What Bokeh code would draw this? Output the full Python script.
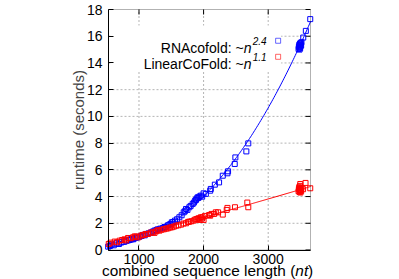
import numpy as np
from bokeh.plotting import figure
from bokeh.models import Label, FixedTicker, Range1d, BoxAnnotation
from bokeh.embed import file_html
from bokeh.resources import INLINE

# ---- data ----
blue_n = [523, 550, 574, 610, 651, 690, 728, 770, 805, 850, 882, 910, 932, 970, 1010, 1040,
          1062, 1090, 1112, 1150, 1189, 1215, 1240, 1270, 1292, 1330, 1369, 1395, 1420, 1450,
          1471, 1490, 1508, 1530, 1558, 1590, 1625, 1660, 1692, 1710, 1728, 1750, 1779, 1800,
          1831, 1850, 1870, 1882, 1895, 1908, 1920, 1935, 1958, 1978, 2000, 2035, 2102, 2112,
          2174, 2240, 2297, 2369, 2379, 2482, 2492, 2662, 2692,
          3470, 3475, 3480, 3485, 3488, 3490, 3492, 3495, 3498, 3500, 3505, 3510, 3515, 3543,
          3583, 3651]
blue_t = [0.25, 0.30, 0.40, 0.35, 0.50, 0.45, 0.58, 0.62, 0.70, 0.75, 0.83, 0.80, 0.90, 0.95,
          1.00, 1.05, 1.13, 1.10, 1.20, 1.25, 1.32, 1.38, 1.45, 1.50, 1.55, 1.60, 1.65, 1.72,
          1.75, 1.85, 1.90, 1.95, 2.07, 2.10, 2.20, 2.30, 2.45, 2.60, 2.82, 2.90, 3.07, 3.00,
          3.20, 3.30, 3.45, 3.55, 3.70, 3.75, 3.85, 3.94, 3.90, 4.00, 4.07, 3.99, 4.24, 4.20,
          4.44, 4.57, 4.89, 5.06, 5.56, 5.74, 5.89, 6.44, 6.93, 7.38, 7.98,
          15.05, 15.20, 15.35, 15.00, 15.15, 15.30, 15.45, 15.10, 15.25, 15.40, 15.50, 15.30,
          15.55, 15.90, 16.40, 17.28]

red_n = [532, 560, 625, 660, 702, 740, 778, 800, 831, 870, 908, 935, 958, 990, 1035, 1060,
         1086, 1110, 1138, 1180, 1215, 1240, 1266, 1290, 1317, 1350, 1385, 1420, 1446, 1480,
         1508, 1540, 1574, 1610, 1651, 1690, 1728, 1760, 1779, 1810, 1846, 1870, 1890, 1908,
         1925, 1940, 1958, 1975, 1985, 2000, 2020, 2086, 2102, 2123, 2163, 2189, 2225, 2297,
         2358, 2369, 2486, 2677, 2692,
         3470, 3475, 3480, 3485, 3488, 3490, 3492, 3495, 3498, 3500, 3505, 3510, 3515, 3497,
         3578, 3651, 3540]
red_t = [0.45, 0.55, 0.63, 0.58, 0.70, 0.75, 0.80, 0.72, 0.90, 0.88, 0.95, 1.02, 1.00, 0.95,
         1.08, 1.12, 1.15, 1.20, 1.20, 1.30, 1.32, 1.28, 1.40, 1.48, 1.45, 1.52, 1.55, 1.60,
         1.62, 1.68, 1.70, 1.75, 1.82, 1.85, 1.90, 1.98, 2.00, 2.10, 2.12, 2.15, 2.20, 2.28,
         2.30, 2.33, 2.38, 2.25, 2.45, 2.35, 2.45, 2.25, 2.55, 2.62, 2.57, 2.70, 2.70, 2.82,
         2.82, 2.65, 3.00, 3.15, 3.20, 3.55, 3.20,
         4.40, 4.55, 4.70, 4.35, 4.50, 4.62, 4.80, 4.45, 4.30, 4.60, 4.50, 4.40, 4.65, 4.94,
         5.02, 4.62, 4.55]

blue_exp = 2.4
red_exp = 1.1
x_ticks = [1000, 2000, 3000]
y_ticks = [0, 2, 4, 6, 8, 10, 12, 14, 16, 18]
x_min, x_max = 528, 3655
y_min, y_max = 0, 18

FONT = "Liberation Sans"

# ---- layout (pixels): canvas size and where the plot box sits in it ----
W, H = 320, 279
PL, PR, PT, PB = 108, 310, 9, 249.5
xs_px = (PR - PL) / (x_max - x_min)
ys_px = (PB - PT) / (y_max - y_min)
x_start, x_end = x_min - PL / xs_px, x_max + (W - PR) / xs_px
y_start, y_end = y_min - (H - PB) / ys_px, y_max + PT / ys_px


def power_fit(n, t, k):
    n = np.asarray(n, float); t = np.asarray(t, float)
    return float(np.sum(t * n**k) / np.sum(n**(2 * k)))


p = figure(width=W, height=H, output_backend="svg", toolbar_location=None,
           x_range=Range1d(x_start, x_end), y_range=Range1d(y_start, y_end),
           min_border_left=0, min_border_right=0, min_border_top=0, min_border_bottom=0)
p.outline_line_color = None
p.background_fill_color = "white"
p.border_fill_color = "white"
p.xgrid.visible = False
p.ygrid.visible = False

xa, ya = p.xaxis[0], p.yaxis[0]
for ax in (xa, ya):
    ax.major_tick_in = 5
    ax.major_tick_out = 0
    ax.minor_tick_line_color = None
    ax.axis_line_color = "black"
    ax.major_tick_line_color = "black"
    ax.major_label_text_font = FONT
    ax.major_label_text_font_size = "14px"
    ax.major_label_text_color = "black"
xa.ticker = FixedTicker(ticks=x_ticks)
ya.ticker = FixedTicker(ticks=y_ticks)
xa.fixed_location = y_min
ya.fixed_location = x_min
xa.bounds = (x_min, x_max)
ya.bounds = (y_min, y_max)
xa.major_label_standoff = 4
ya.major_label_standoff = 6
ya.axis_label = "runtime (seconds)"
ya.axis_label_text_font = FONT
ya.axis_label_text_font_size = "15px"
ya.axis_label_text_font_style = "normal"
ya.axis_label_standoff = -3

# dashed grid inside the plot box
gx = [t for t in x_ticks if x_min < t < x_max]
gy = [t for t in y_ticks if y_min < t < y_max]
grid_kw = dict(line_color="#b4b4b4", line_dash="2 2", line_width=1)
p.segment(x0=gx, y0=[y_min] * len(gx), x1=gx, y1=[y_max] * len(gx), **grid_kw)
p.segment(x0=[x_min] * len(gy), y0=gy, x1=[x_max] * len(gy), y1=gy, **grid_kw)

# opaque key area
p.quad(left=[560], right=[3200], bottom=[13.4], top=[16.8], fill_color="white",
       line_color=None)

# mirrored inward ticks on the right and top edges
p.ray(x=[x_max] * len(y_ticks), y=y_ticks, length=5, length_units="screen",
      angle=np.pi, line_color="black", line_width=1)
p.ray(x=x_ticks, y=[y_max] * len(x_ticks), length=5, length_units="screen",
      angle=-np.pi / 2, line_color="black", line_width=1)

# fit lines
xs = np.linspace(x_min, x_max, 200)
cb = power_fit(blue_n, blue_t, blue_exp)
cr = power_fit(red_n, red_t, red_exp)
p.line(xs, cb * xs**blue_exp, line_color="#0000ff", line_width=1)
p.line(xs, cr * xs**red_exp, line_color="#ff0000", line_width=1)

p.scatter(blue_n, blue_t, marker="square", size=5, fill_color=None,
          line_color="#0000ff", line_width=1)
p.scatter(red_n, red_t, marker="square", size=5, fill_color=None,
          line_color="#ff0000", line_width=1)

# plot border
p.add_layout(BoxAnnotation(left=x_min, right=x_max, bottom=y_min, top=y_max,
                           fill_alpha=0, line_color="black", line_width=1))

# key
key_x = 2620
for name, exp_txt, ky, col in (("RNAcofold: ~", "2.4", 15.14, "#0000ff"),
                                ("LinearCoFold: ~", "1.1", 13.94, "#ff0000")):
    p.add_layout(Label(x=key_x, y=ky, text=name, text_align="right",
                       text_baseline="alphabetic", text_font=FONT,
                       text_font_size="14px", text_color="black"))
    p.add_layout(Label(x=key_x, y=ky, text="n", text_align="left",
                       text_baseline="alphabetic", text_font=FONT,
                       text_font_style="italic", text_font_size="14px", text_color="black"))
    p.add_layout(Label(x=key_x, y=ky, x_offset=9, y_offset=7, text=exp_txt,
                       text_align="left", text_baseline="alphabetic", text_font=FONT,
                       text_font_style="italic", text_font_size="10px", text_color="black"))
    p.scatter([3154], [ky + 0.52], marker="square", size=5, fill_color=None,
              line_color=col, line_width=1, line_alpha=0.6)

# x axis title with italic unit
xl_x, xl_y = 3420, -1.52
p.add_layout(Label(x=xl_x, y=xl_y, text="combined sequence length (", text_align="right",
                   text_baseline="alphabetic", text_font=FONT, text_font_size="15.4px",
                   text_color="black"))
p.add_layout(Label(x=xl_x, y=xl_y, text="nt", text_align="left",
                   text_baseline="alphabetic", text_font=FONT, text_font_style="italic",
                   text_font_size="15.4px", text_color="black"))
p.add_layout(Label(x=xl_x, y=xl_y, x_offset=12.8, text=")", text_align="left",
                   text_baseline="alphabetic", text_font=FONT, text_font_size="15.4px",
                   text_color="black"))

open("out.html", "w").write(file_html(p, INLINE))
